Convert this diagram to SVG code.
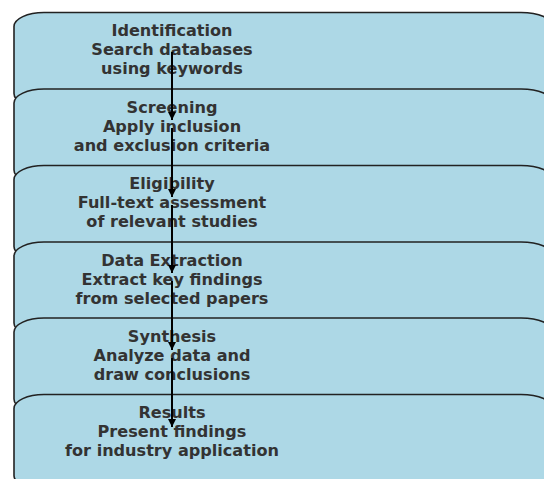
<svg xmlns="http://www.w3.org/2000/svg" width="544" height="479" viewBox="0 0 544 479">
  <defs>
    <!-- one stage box: rounded rectangle, origin at its top-left -->
    <path id="stage" d="M14,14 A30,14 0 0 1 44,0 L521,0 A32,14 0 0 1 553,14 L553,81 A32,14 0 0 1 521,95 L44,95 A30,14 0 0 1 14,81 Z"/>
    <marker id="head" viewBox="0 0 10 10" refX="10" refY="5" markerWidth="4.2" markerHeight="4.2" orient="auto" markerUnits="strokeWidth">
      <path d="M0,0 L10,5 L0,10 Z" fill="#000"/>
    </marker>
  </defs>
  <style>
    .box { fill: #add8e6; stroke: #222; stroke-width: 1.6; }
    .lbl { font-family: "DejaVu Sans", "Liberation Sans", sans-serif; font-weight: bold; font-size: 16.1px; fill: #333; text-anchor: middle; }
    .arrow { stroke: #000; stroke-width: 2; fill: none; marker-end: url(#head); }
  </style>

  <g id="identification" transform="translate(0,12.5)">
    <use href="#stage" class="box"/>
    <text class="lbl" x="172" y="23.5">Identification</text>
    <text class="lbl" x="172" y="42.5">Search databases</text>
    <text class="lbl" x="172" y="61.5">using keywords</text>
  </g>

  <g id="screening" transform="translate(0,89)">
    <use href="#stage" class="box"/>
    <text class="lbl" x="172" y="23.5">Screening</text>
    <text class="lbl" x="172" y="42.5">Apply inclusion</text>
    <text class="lbl" x="172" y="61.5">and exclusion criteria</text>
  </g>

  <g id="eligibility" transform="translate(0,165.5)">
    <use href="#stage" class="box"/>
    <text class="lbl" x="172" y="23.5">Eligibility</text>
    <text class="lbl" x="172" y="42.5">Full-text assessment</text>
    <text class="lbl" x="172" y="61.5">of relevant studies</text>
  </g>

  <g id="data-extraction" transform="translate(0,242)">
    <use href="#stage" class="box"/>
    <text class="lbl" x="172" y="23.5">Data Extraction</text>
    <text class="lbl" x="172" y="42.5">Extract key findings</text>
    <text class="lbl" x="172" y="61.5">from selected papers</text>
  </g>

  <g id="synthesis" transform="translate(0,318)">
    <use href="#stage" class="box"/>
    <text class="lbl" x="172" y="23.5">Synthesis</text>
    <text class="lbl" x="172" y="42.5">Analyze data and</text>
    <text class="lbl" x="172" y="61.5">draw conclusions</text>
  </g>

  <g id="results" transform="translate(0,394.5)">
    <use href="#stage" class="box"/>
    <text class="lbl" x="172" y="23.5">Results</text>
    <text class="lbl" x="172" y="42.5">Present findings</text>
    <text class="lbl" x="172" y="61.5">for industry application</text>
  </g>

  <g id="connectors">
    <line class="arrow" x1="172" y1="52" x2="172" y2="120"/>
    <line class="arrow" x1="172" y1="128" x2="172" y2="197"/>
    <line class="arrow" x1="172" y1="205" x2="172" y2="273"/>
    <line class="arrow" x1="172" y1="281" x2="172" y2="350"/>
    <line class="arrow" x1="172" y1="358" x2="172" y2="427"/>
  </g>
</svg>
